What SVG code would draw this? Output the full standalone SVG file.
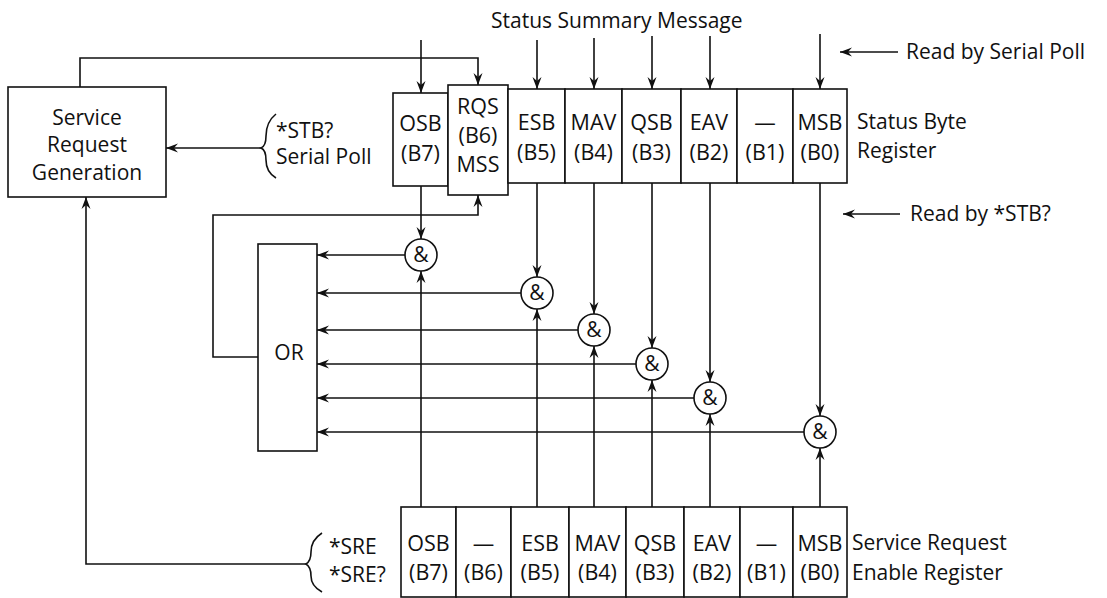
<svg xmlns="http://www.w3.org/2000/svg" width="1107" height="598" viewBox="0 0 1107 598">
<style>
  .ln { stroke:#111; stroke-width:1.6; fill:none; }
  .arr { stroke:#111; stroke-width:1.6; fill:none; marker-end:url(#ah); }
  .box { fill:#fff; stroke:#111; stroke-width:1.6; }
  text { font-family:"Open Sans","Liberation Sans",sans-serif; font-size:21px; fill:#111; }
  .r { font-size:21.5px; text-anchor:middle; }
  .c { text-anchor:middle; }
  .gate { fill:#fff; stroke:#111; stroke-width:1.6; }
</style>
<defs>
  <marker id="ah" markerUnits="userSpaceOnUse" markerWidth="14" markerHeight="10" refX="12" refY="5" orient="auto">
    <path d="M0,0.5 L12,5 L0,9.5 L4,5 z" fill="#111"/>
  </marker>
</defs>
<rect width="1107" height="598" fill="#fff"/>

<!-- labels -->
<text x="491" y="28" font-size="22.5">Status Summary Message</text>
<text x="906" y="59" font-size="22.5">Read by Serial Poll</text>
<text x="910" y="221" font-size="22">Read by *STB?</text>
<text x="857" y="129">Status Byte</text>
<text x="857" y="158">Register</text>
<text x="852" y="550">Service Request</text>
<text x="852" y="580">Enable Register</text>
<text x="276" y="138">*STB?</text>
<text x="276" y="164">Serial Poll</text>
<text x="329" y="554">*SRE</text>
<text x="329" y="582">*SRE?</text>

<!-- nodes -->
<g id="srg">
  <rect class="box" x="8" y="87" width="158" height="110"/>
  <text class="c" x="87" y="125">Service</text>
  <text class="c" x="87" y="152">Request</text>
  <text class="c" x="87" y="180">Generation</text>
</g>

<g id="sb-osb"><rect class="box" x="393" y="93" width="55" height="93"/>
  <text class="r" x="420.5" y="131">OSB</text><text class="r" x="420.5" y="161">(B7)</text></g>
<g id="sb-rqs"><rect class="box" x="448" y="85" width="60" height="110"/>
  <text class="r" x="478" y="114">RQS</text><text class="r" x="478" y="143">(B6)</text><text class="r" x="478" y="172">MSS</text></g>
<g id="sb-esb"><rect class="box" x="508" y="89" width="57" height="94"/>
  <text class="r" x="536.5" y="130">ESB</text><text class="r" x="536.5" y="160">(B5)</text></g>
<g id="sb-mav"><rect class="box" x="565" y="89" width="57" height="94"/>
  <text class="r" x="593.5" y="130">MAV</text><text class="r" x="593.5" y="160">(B4)</text></g>
<g id="sb-qsb"><rect class="box" x="622" y="89" width="59" height="94"/>
  <text class="r" x="651.5" y="130">QSB</text><text class="r" x="651.5" y="160">(B3)</text></g>
<g id="sb-eav"><rect class="box" x="681" y="89" width="56" height="94"/>
  <text class="r" x="709" y="130">EAV</text><text class="r" x="709" y="160">(B2)</text></g>
<g id="sb-b1"><rect class="box" x="737" y="89" width="56" height="94"/>
  <text class="r" x="765" y="130">—</text><text class="r" x="765" y="160">(B1)</text></g>
<g id="sb-msb"><rect class="box" x="793" y="89" width="54" height="94"/>
  <text class="r" x="820" y="130">MSB</text><text class="r" x="820" y="160">(B0)</text></g>

<g id="or"><rect class="box" x="258" y="244" width="59" height="207"/>
  <text class="c" x="289" y="360">OR</text></g>

<g id="sre-osb"><rect class="box" x="401" y="507" width="55" height="90"/>
  <text class="r" x="428.5" y="551">OSB</text><text class="r" x="428.5" y="580">(B7)</text></g>
<g id="sre-b6"><rect class="box" x="456" y="507" width="55" height="90"/>
  <text class="r" x="483.5" y="551">—</text><text class="r" x="483.5" y="580">(B6)</text></g>
<g id="sre-esb"><rect class="box" x="511" y="507" width="58" height="90"/>
  <text class="r" x="540" y="551">ESB</text><text class="r" x="540" y="580">(B5)</text></g>
<g id="sre-mav"><rect class="box" x="569" y="507" width="57" height="90"/>
  <text class="r" x="597.5" y="551">MAV</text><text class="r" x="597.5" y="580">(B4)</text></g>
<g id="sre-qsb"><rect class="box" x="626" y="507" width="58" height="90"/>
  <text class="r" x="655" y="551">QSB</text><text class="r" x="655" y="580">(B3)</text></g>
<g id="sre-eav"><rect class="box" x="684" y="507" width="56" height="90"/>
  <text class="r" x="712" y="551">EAV</text><text class="r" x="712" y="580">(B2)</text></g>
<g id="sre-b1"><rect class="box" x="740" y="507" width="53" height="90"/>
  <text class="r" x="766.5" y="551">—</text><text class="r" x="766.5" y="580">(B1)</text></g>
<g id="sre-msb"><rect class="box" x="793" y="507" width="54" height="90"/>
  <text class="r" x="820" y="551">MSB</text><text class="r" x="820" y="580">(B0)</text></g>

<!-- connectors -->
<g id="connectors">
  <path class="arr" d="M421,40 V93"/>
  <path class="arr" d="M537,40 V89"/>
  <path class="arr" d="M594,38 V89"/>
  <path class="arr" d="M652,36 V89"/>
  <path class="arr" d="M710,36 V89"/>
  <path class="arr" d="M820,34 V89"/>
  <path class="arr" d="M80,87 V58 H478 V85"/>
  <path class="arr" d="M898,52 H840"/>
  <path class="arr" d="M900,214 H843"/>
  <path class="arr" d="M262,148 H166"/>
  <path class="ln" d="M276,114 Q266,122 266,136 Q266,146 261,148 Q266,150 266,160 Q266,172 276,178"/>
  <path class="arr" d="M307,564 H86 V197"/>
  <path class="ln" d="M322,533 Q311,540 311,552 Q311,561 306,564 Q311,567 311,576 Q311,586 322,592"/>
  <path class="arr" d="M258,357 H213 V215 H478 V195"/>
  <path class="arr" d="M421,186 V239"/>
  <path class="arr" d="M537,183 V277"/>
  <path class="arr" d="M594,183 V314"/>
  <path class="arr" d="M652,183 V348"/>
  <path class="arr" d="M710,183 V382"/>
  <path class="arr" d="M820,183 V416"/>
  <path class="arr" d="M421,507 V271"/>
  <path class="arr" d="M537,507 V309"/>
  <path class="arr" d="M594,507 V346"/>
  <path class="arr" d="M652,507 V380"/>
  <path class="arr" d="M710,507 V414"/>
  <path class="arr" d="M820,507 V448"/>
  <path class="arr" d="M405,255 H317"/>
  <path class="arr" d="M521,293 H317"/>
  <path class="arr" d="M578,330 H317"/>
  <path class="arr" d="M636,364 H317"/>
  <path class="arr" d="M694,398 H317"/>
  <path class="arr" d="M804,432 H317"/>
</g>

<g id="and1"><circle class="gate" cx="421" cy="255" r="16"/><text class="c" x="421" y="262" font-size="20">&amp;</text></g>
<g id="and2"><circle class="gate" cx="537" cy="293" r="16"/><text class="c" x="537" y="300" font-size="20">&amp;</text></g>
<g id="and3"><circle class="gate" cx="594" cy="330" r="16"/><text class="c" x="594" y="337" font-size="20">&amp;</text></g>
<g id="and4"><circle class="gate" cx="652" cy="364" r="16"/><text class="c" x="652" y="371" font-size="20">&amp;</text></g>
<g id="and5"><circle class="gate" cx="710" cy="398" r="16"/><text class="c" x="710" y="405" font-size="20">&amp;</text></g>
<g id="and6"><circle class="gate" cx="820" cy="432" r="16"/><text class="c" x="820" y="439" font-size="20">&amp;</text></g>
</svg>
